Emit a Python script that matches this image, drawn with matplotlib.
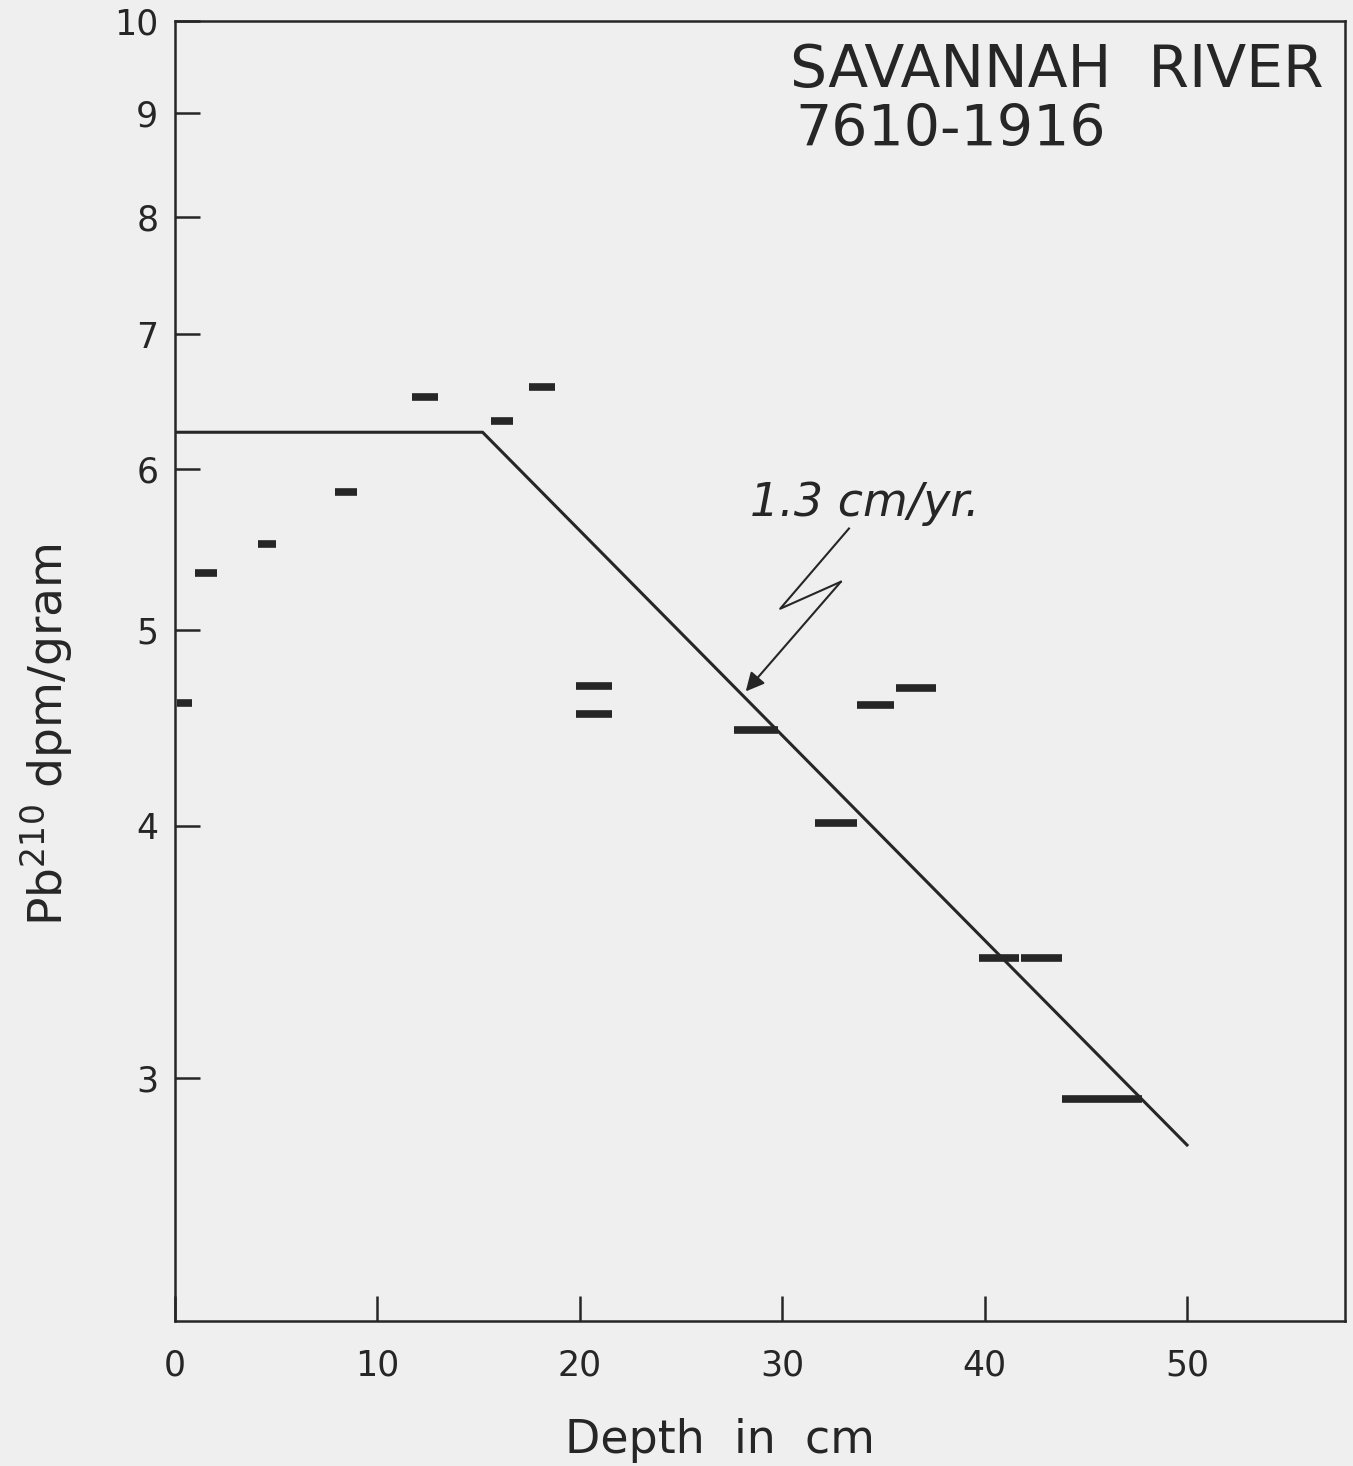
import matplotlib
matplotlib.use("Agg")
import matplotlib.pyplot as plt
from matplotlib.ticker import FixedLocator, FixedFormatter, NullLocator

# depth intervals (cm) and Pb-210 activity (dpm/g)
depth_top = [0.1, 1.0, 4.1, 7.9, 11.7, 15.6, 17.5, 19.8, 19.8, 27.6, 31.6, 33.7, 35.6, 39.7, 41.8, 43.8]
depth_bot = [0.85, 2.1, 5.0, 9.0, 13.0, 16.7, 18.8, 21.6, 21.6, 29.8, 33.7, 35.5, 37.6, 41.7, 43.8, 47.8]
pb210 = [4.60, 5.33, 5.51, 5.85, 6.52, 6.34, 6.59, 4.69, 4.54, 4.46, 4.01, 4.59, 4.68, 3.44, 3.44, 2.93]

# fitted line: constant surface layer then log-linear decay
fit_x = [0.0, 15.2, 50.0]
fit_y = [6.26, 6.26, 2.78]

# zigzag leader for the rate label
zig_x = [33.3, 29.9, 32.9]
zig_y = [5.61, 5.12, 5.28]
arrow_tip = (28.2, 4.66)

xticks = [0, 10, 20, 30, 40, 50]
yticks = [3, 4, 5, 6, 7, 8, 9, 10]

ink = "#262626"
bg = "#efefef"

fig = plt.figure(figsize=(13.53, 14.66), dpi=100, facecolor=bg)
ax = fig.add_axes([0.1293, 0.0989, 0.8647, 0.8868], facecolor=bg)

ax.set_yscale("log")
ax.set_xlim(0, 57.8)
ax.set_ylim(2.275, 10)

ax.hlines(pb210, depth_top, depth_bot, colors=ink, linewidth=5.5)
ax.plot(fit_x, fit_y, color=ink, linewidth=2.2)

ax.plot(zig_x, zig_y, color=ink, linewidth=1.5)
ax.annotate("", xy=arrow_tip, xytext=(zig_x[-1], zig_y[-1]),
            arrowprops=dict(arrowstyle="-|>", color=ink, lw=1.5,
                            mutation_scale=28, shrinkA=0, shrinkB=0))
ax.text(28.4, 5.77, "1.3 cm/yr.", fontsize=33, style="italic",
        color=ink, va="center", ha="left")

ax.text(0.526, 0.984, "SAVANNAH  RIVER", transform=ax.transAxes,
        fontsize=42, color=ink, va="top", ha="left")
ax.text(0.53, 0.937, "7610-1916", transform=ax.transAxes,
        fontsize=41, color=ink, va="top", ha="left")

ax.yaxis.set_major_locator(FixedLocator(yticks))
ax.yaxis.set_major_formatter(FixedFormatter([str(t) for t in yticks]))
ax.yaxis.set_minor_locator(NullLocator())
ax.set_xticks(xticks)

ax.tick_params(axis="both", direction="in", length=18, width=1.8,
               colors=ink, labelsize=25)
ax.tick_params(axis="x", pad=20)
ax.tick_params(axis="y", pad=12)

for s in ax.spines.values():
    s.set_color(ink)
    s.set_linewidth(1.8)

ax.set_xlabel("Depth  in  cm", fontsize=33, color=ink)
ax.set_ylabel(r"Pb$^{210}$ dpm/gram", fontsize=34, color=ink)
ax.xaxis.set_label_coords(0.466, -0.0746)
ax.yaxis.set_label_coords(-0.085, 0.451)

fig.savefig("out.png", dpi=100, facecolor=bg)
